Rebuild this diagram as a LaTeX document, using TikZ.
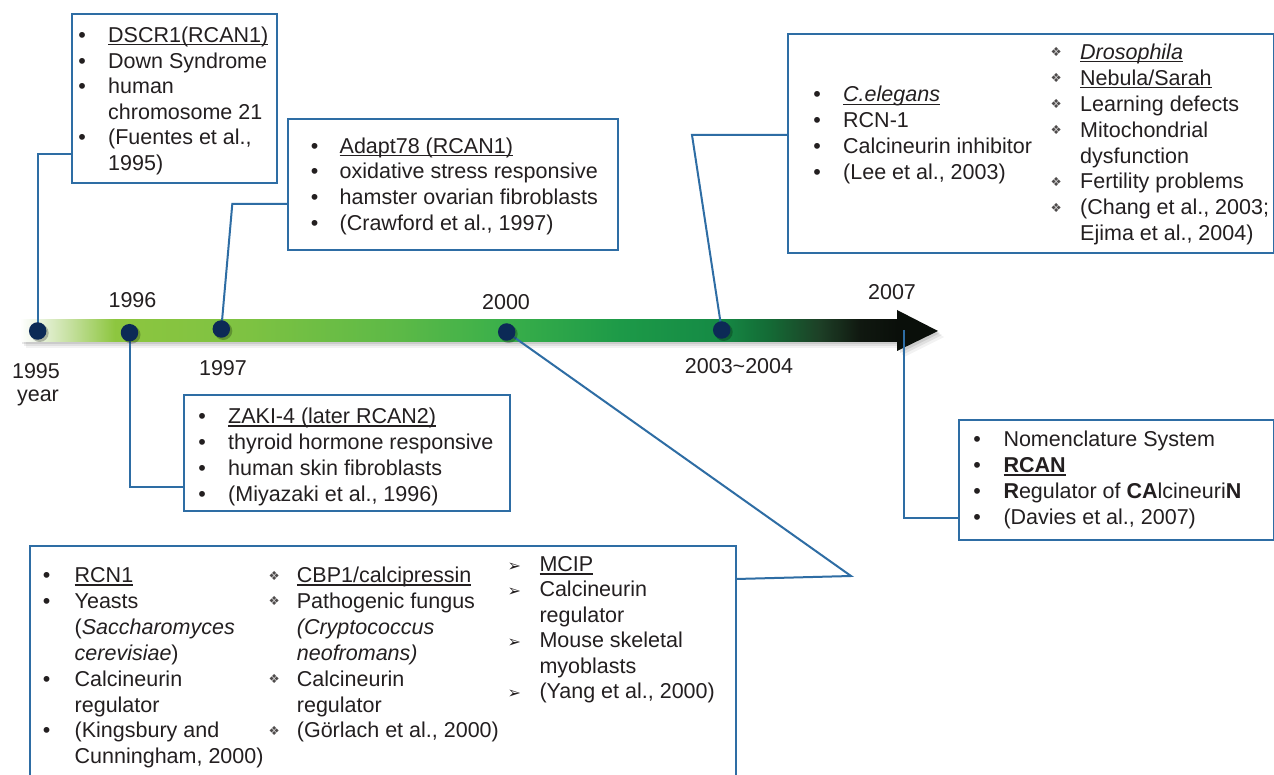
\documentclass[tikz,border=0pt]{standalone}
\usepackage{fontspec}
\usetikzlibrary{calc}
\setmainfont{Liberation Sans}
\newfontfamily\dv{DejaVu Sans}
\definecolor{txt}{HTML}{231F20}
\definecolor{lnc}{HTML}{2E6DA4}
\definecolor{dotc}{HTML}{0C2A56}
\definecolor{ga}{HTML}{EEF5E6}
\definecolor{gb}{HTML}{C5E09F}
\definecolor{gc}{HTML}{8DC63F}
\definecolor{gd}{HTML}{7DC242}
\definecolor{ge}{HTML}{5CB947}
\definecolor{gf}{HTML}{3BB04A}
\definecolor{gg}{HTML}{1D9A48}
\definecolor{gh}{HTML}{158A45}
\definecolor{gi}{HTML}{146A35}
\definecolor{gj}{HTML}{1D3F26}
\definecolor{gk}{HTML}{101810}
\definecolor{gl}{HTML}{0A0F0A}
\pgfdeclarehorizontalshading{tbar}{100bp}{color(0bp)=(white); color(25bp)=(white); color(25.85bp)=(ga); color(27.85bp)=(gb); color(30.41bp)=(gc); color(38.1bp)=(gd); color(46.64bp)=(ge); color(52.33bp)=(gf); color(59.17bp)=(gg); color(64.86bp)=(gh); color(67.71bp)=(gi); color(70.56bp)=(gj); color(72.84bp)=(gk); color(75bp)=(gl); color(100bp)=(gl)}
\newlength\bgap
\newsavebox\ulbox
\newcommand\ulx[1]{\sbox\ulbox{#1}\rlap{\rule[-3pt]{\wd\ulbox}{1.4pt}}\usebox\ulbox}
\newcommand\D{\makebox[\bgap][l]{\makebox[0pt]{•}}}
\newcommand\St{\makebox[\bgap][l]{\makebox[0pt]{\dv\fontsize{12.5}{10}\selectfont\color{txt!80}\raisebox{2.5pt}{❖}}}}
\newcommand\Ar{\makebox[\bgap][l]{\makebox[0pt]{\dv\fontsize{16}{10}\selectfont\raisebox{0.5pt}{➢}}}}
\newcommand\N{\hspace*{\bgap}}
\begin{document}
\begin{tikzpicture}[x=1pt,y=-1pt,
  box/.style={draw=lnc, line width=2pt, fill=white, inner sep=0pt, anchor=north west},
  conn/.style={draw=lnc, line width=2pt},
  dot/.style={circle, fill=dotc, inner sep=0pt, minimum size=17.5pt},
  lbl/.style={font=\fontsize{21.5}{25}\selectfont, text=txt, inner sep=0pt, anchor=base},
  tx/.style={font=\fontsize{21.5}{#1}\selectfont, text=txt, inner sep=0pt, anchor=base west}]
\useasboundingbox (0,0) rectangle (1274,775);
\fill[white] (0,0) rectangle (1274,775);

% timeline bar with soft shadow
\foreach \o/\a in {6/0.05,4/0.07,2/0.09}{
  \fill[black,opacity=\a] (20+\o,320+\o) rectangle (898+\o,342+\o);
  \fill[black,opacity=\a] (898+\o,310+\o) -- (938+\o,331+\o) -- (898+\o,351+\o) -- cycle;}
\shade[shading=tbar] (20,320) rectangle (898,342);
\fill[gl] (897,310) -- (938,331) -- (897,351) -- cycle;

% boxes
\node[box, minimum width=205pt, minimum height=168.4pt] (b1) at (70.7,13.3) {};
\node[box, minimum width=329.7pt, minimum height=130.7pt] (b2) at (287,118.3) {};
\node[box, minimum width=326.3pt, minimum height=115.7pt] (b3) at (182.7,394.3) {};
\node[box, minimum width=486pt, minimum height=218.4pt] (b5) at (787,33.3) {};
\node[box, minimum width=315pt, minimum height=120pt] (b6) at (958,419.3) {};
\draw[lnc, line width=2pt] (736,776) -- (736,546) -- (30,546) -- (30,776);
\coordinate (b4r) at (736,579);

% dots
\coordinate (d95) at (37.7,331);
\coordinate (d96) at (129.5,332.7);
\coordinate (d97) at (221.3,329);
\coordinate (d00) at (506.7,332);
\coordinate (d03) at (721.7,330);
\coordinate (d07) at (904,330);
\coordinate (k1) at (37.7,154);
\coordinate (k2) at (232.3,204);
\coordinate (k3) at (129.5,487);
\coordinate (k4) at (851,576);
\coordinate (k5) at (692,135);
\coordinate (k6) at (904,518);

% connectors
\draw[conn] (d95) -- (k1) -- (b1.west |- k1);
\draw[conn] (d97) -- (k2) -- (b2.west |- k2);
\draw[conn] (d96) -- (k3) -- (b3.west |- k3);
\draw[conn] (d00) -- (k4) -- (b4r);
\draw[conn] (d03) -- (k5) -- (b5.west |- k5);
\draw[conn] (d07) -- (k6) -- (b6.west |- k6);

\foreach \p in {d95,d96,d97,d00,d03}{
  \fill[black,opacity=0.25] ($(\p)+(2,2)$) circle (9pt);}
\node[dot] (n95) at (d95) {};
\node[dot] (n96) at (d96) {};
\node[dot] (n97) at (d97) {};
\node[dot] (n00) at (d00) {};
\node[dot] (n03) at (d03) {};

% year labels
\node[lbl] (y96) at (132.5,307.3) {1996};
\node[lbl] (y95) at (36,378.3) {1995};
\node[lbl] (yyr) at (38,401.7) {year};
\node[lbl] (y97) at (223,375) {1997};
\node[lbl] (y00) at (506,310) {2000};
\node[lbl] (y03) at (739,373.3) {2003\textasciitilde2004};
\node[lbl] (y07) at (892,300) {2007};

% texts
\node[tx=25.6] (t1) at (82,42.5) {\setlength\bgap{26pt}\begin{tabular}[t]{@{}l@{}}
\D\ulx{DSCR1(RCAN1)}\\
\D Down Syndrome\\
\D human\\
\N chromosome 21\\
\D (Fuentes et al.,\\
\N 1995)\end{tabular}};

\node[tx=25.6] (t2) at (314.5,153.3) {\setlength\bgap{25pt}\begin{tabular}[t]{@{}l@{}}
\D\ulx{Adapt78 (RCAN1)}\\
\D oxidative stress responsive\\
\D hamster ovarian fibroblasts\\
\D (Crawford et al., 1997)\end{tabular}};

\node[tx=26] (t3) at (202,423.7) {\setlength\bgap{26pt}\begin{tabular}[t]{@{}l@{}}
\D\ulx{ZAKI-4 (later RCAN2)}\\
\D thyroid hormone responsive\\
\D human skin fibroblasts\\
\D (Miyazaki et al., 1996)\end{tabular}};

\node[tx=25.9] (t4a) at (46.5,582.5) {\setlength\bgap{28pt}\begin{tabular}[t]{@{}l@{}}
\D\ulx{RCN1}\\
\D Yeasts\\
\N (\textit{Saccharomyces}\\
\N \textit{cerevisiae})\\
\D Calcineurin\\
\N regulator\\
\D (Kingsbury and\\
\N Cunningham, 2000)\end{tabular}};

\node[tx=25.9] (t4b) at (274,582.5) {\setlength\bgap{22.7pt}\begin{tabular}[t]{@{}l@{}}
\St\ulx{CBP1/calcipressin}\\
\St Pathogenic fungus\\
\N \textit{(Cryptococcus}\\
\N \textit{neofromans)}\\
\St Calcineurin\\
\N regulator\\
\St (Görlach et al., 2000)\end{tabular}};

\node[tx=25.4] (t4c) at (514,571.5) {\setlength\bgap{25.3pt}\begin{tabular}[t]{@{}l@{}}
\Ar\ulx{MCIP}\\
\Ar Calcineurin\\
\N regulator\\
\Ar Mouse skeletal\\
\N myoblasts\\
\Ar (Yang et al., 2000)\end{tabular}};

\node[tx=25.7] (t5a) at (817,102) {\setlength\bgap{26pt}\begin{tabular}[t]{@{}l@{}}
\D\ulx{\textit{C.elegans}}\\
\D RCN-1\\
\D Calcineurin inhibitor\\
\D (Lee et al., 2003)\end{tabular}};

\node[tx=25.9] (t5b) at (1056,59.5) {\setlength\bgap{24pt}\begin{tabular}[t]{@{}l@{}}
\St\ulx{\textit{Drosophila}}\\
\St\ulx{Nebula/Sarah}\\
\St Learning defects\\
\St Mitochondrial\\
\N dysfunction\\
\St Fertility problems\\
\St (Chang et al., 2003;\\
\N Ejima et al., 2004)\end{tabular}};

\node[tx=26] (t6) at (977,446.5) {\setlength\bgap{26.3pt}\begin{tabular}[t]{@{}l@{}}
\D Nomenclature System\\
\D\ulx{\textbf{RCAN}}\\
\D\textbf{R}egulator of \textbf{CA}lcineuri\textbf{N}\\
\D (Davies et al., 2007)\end{tabular}};
\end{tikzpicture}
\end{document}
